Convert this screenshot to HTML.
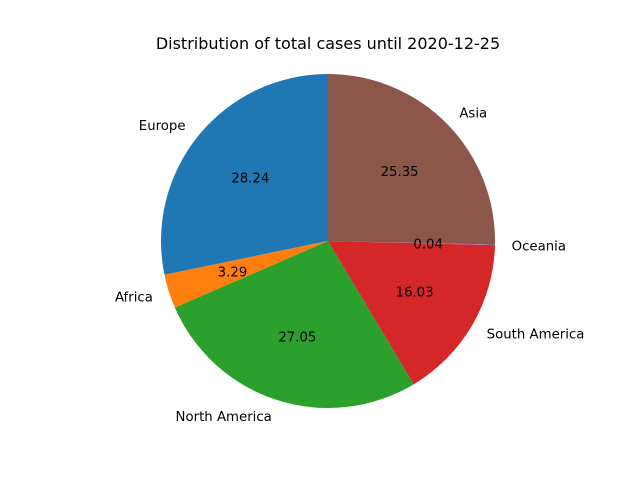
<!DOCTYPE html>
<html><head><meta charset="utf-8"><style>
body{margin:0;background:#fff}
svg{display:block}
text{font-family:"DejaVu Sans","Liberation Sans",sans-serif;font-size:13.3px;fill:#000}
</style></head><body>
<svg id="chart" width="640" height="480">
<text x="328" y="49" text-anchor="middle" style="font-size:16px">Distribution of total cases until 2020-12-25</text>
<g id="slices"></g><g id="labels"></g>
</svg>
<script>
const categories=["Europe","Africa","North America","South America","Oceania","Asia"];
const values=[28.24,3.29,27.05,16.03,0.04,25.35];
const colors=["#1f77b4","#ff7f0e","#2ca02c","#d62728","#9467bd","#8c564b"];
const gS=document.getElementById('slices');
const gL=document.getElementById('labels');
const NS="http://www.w3.org/2000/svg";
const cx=328,cy=241,R=167;
const total=values.reduce((a,b)=>a+b,0);
let ang=90;
function pt(a,r){const t=a*Math.PI/180;return[cx+r*Math.cos(t),cy-r*Math.sin(t)];}
values.forEach((v,i)=>{
  const sweep=v/total*360;
  const a0=ang,a1=ang+sweep;
  const p0=pt(a0,R),p1=pt(a1,R);
  const large=sweep>180?1:0;
  const path=document.createElementNS(NS,'path');
  path.setAttribute('d',`M${cx},${cy} L${p0[0]},${p0[1]} A${R},${R} 0 ${large} 0 ${p1[0]},${p1[1]} Z`);
  path.setAttribute('fill',colors[i]);
  
  
  gS.appendChild(path);
  const mid=(a0+a1)/2;
  const lp=pt(mid,R*1.1);
  const cosm=Math.cos(mid*Math.PI/180);
  const lab=document.createElementNS(NS,'text');
  lab.setAttribute('x',lp[0]);lab.setAttribute('y',lp[1]+5);
  lab.setAttribute('text-anchor',cosm<0?'end':'start');
  lab.textContent=categories[i];
  
  
  gL.appendChild(lab);
  const pp=pt(mid,R*0.6);
  const pc=document.createElementNS(NS,'text');
  pc.setAttribute('x',pp[0]);pc.setAttribute('y',pp[1]+5);
  pc.setAttribute('text-anchor','middle');
  pc.textContent=(v/total*100).toFixed(2);
  
  
  gL.appendChild(pc);
  ang=a1;
});
</script>
</body></html>
